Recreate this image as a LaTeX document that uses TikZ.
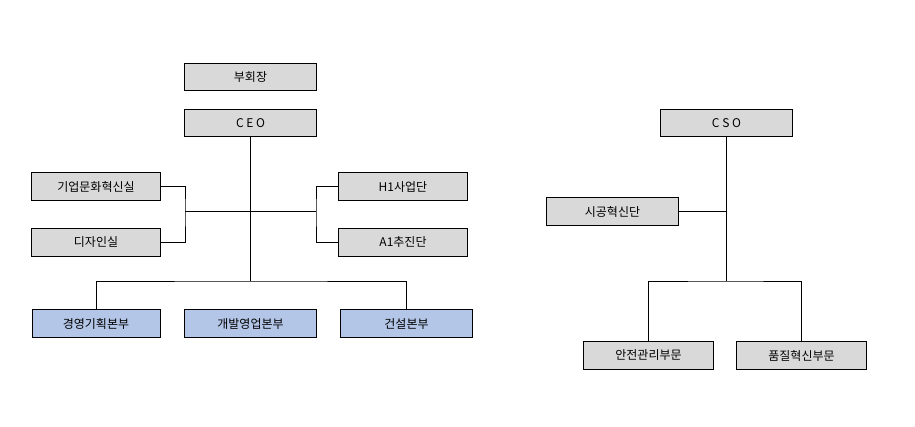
\documentclass[tikz,border=0pt]{standalone}
\usepackage{fontspec}
\newfontfamily\kr{Noto Sans CJK KR}
\usetikzlibrary{positioning}
\definecolor{boxgray}{HTML}{D9D9D9}
\definecolor{boxblue}{HTML}{B4C6E7}
\tikzset{
  unit/.style={draw=black, line width=0.6pt, fill=boxgray, minimum width=97pt,
    minimum height=20.5pt, inner sep=0pt, font=\kr\fontsize{9}{10}\selectfont},
  wide/.style={unit, minimum width=98.5pt},
  dept/.style={unit, fill=boxblue},
  link/.style={draw=black, line width=0.6pt}
}
\begin{document}
\begin{tikzpicture}[x=0.75pt, y=-0.75pt]
    \useasboundingbox (0,0) rectangle (915,426);

    % CEO side
    \node[wide] (vice) at (250.5,77) {부회장};
    \node[wide] (ceo) at (250.5,123) {C E O};
    \node[unit] (culture) at (96,186.5) {기업문화혁신실};
    \node[unit] (design) at (96,242.5) {디자인실};
    \node[unit] (hone) at (403,186.5) {H1사업단};
    \node[unit] (aone) at (403,242.5) {A1추진단};
    \node[dept, minimum width=96pt] (plan) at (96,323.5) {경영기획본부};
    \node[dept, minimum width=98.5pt] (sales) at (250.5,323.5) {개발영업본부};
    \node[dept, minimum width=98.5pt] (build) at (406.5,323.5) {건설본부};

    % CSO side
    \node[wide] (cso) at (726.5,123) {C S O};
    \node[wide] (tech) at (612.5,211.5) {시공혁신단};
    \node[unit] (safety) at (648.5,355.5) {안전관리부문};
    \node[unit] (quality) at (801.5,355.5) {품질혁신부문};

    % CEO lines
    \coordinate (ceohub) at (250.5,211);
    \coordinate (ceobus) at (250.5,281);
    \coordinate (lbr) at (185,211);
    \coordinate (rbr) at (316,211);
    \draw[link] (ceo) -- (ceobus);
    \draw[link] (lbr) -- (rbr);
    \draw[link] (culture.east) -| (lbr) |- (design.east);
    \draw[link] (hone.west) -| (rbr) |- (aone.west);
    \draw[link] (plan.north) |- (ceobus) -| (build.north);

    % CSO lines
    \coordinate (csobus) at (726.5,281);
    \draw[link] (cso) -- (csobus);
    \draw[link] (tech.east) -- (tech.east -| cso);
    \draw[link] (safety.north) |- (csobus) -| (quality.north);
\end{tikzpicture}
\end{document}
